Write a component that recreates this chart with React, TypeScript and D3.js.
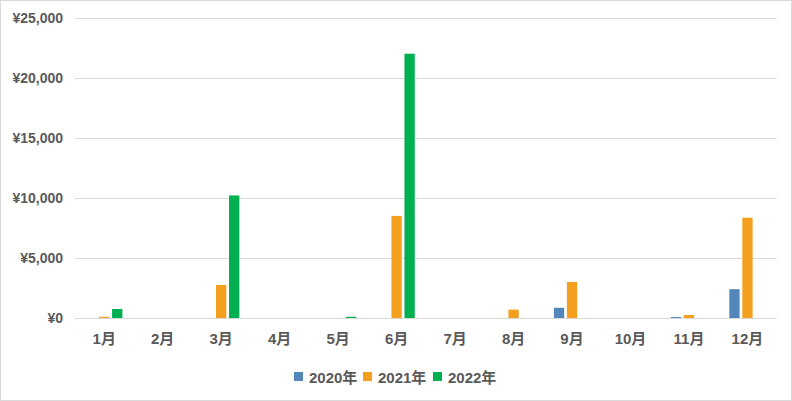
import React from "react";
import * as d3 from "d3";

const months = ["1月", "2月", "3月", "4月", "5月", "6月", "7月", "8月", "9月", "10月", "11月", "12月"];
const seriesNames = ["2020年", "2021年", "2022年"];
const values2020 = [0, 0, 0, 0, 0, 0, 0, 0, 850, 0, 80, 2400];
const values2021 = [100, 0, 2750, 0, 0, 8500, 0, 700, 3000, 0, 250, 8350];
const values2022 = [750, 0, 10200, 0, 100, 22000, 0, 0, 0, 0, 0, 0];
const yTicks = [0, 5000, 10000, 15000, 20000, 25000];
const colors = ["#5386B9", "#F59F1E", "#00B050"];

const W = 792;
const H = 401;
const left = 75;
const right = 776.7;
const top = 17.7;
const bottom = 318;
const font = "'Liberation Sans', Arial, 'Noto Sans CJK JP', sans-serif";
const textColor = "#595959";

export default function App() {
  const seriesValues = [values2020, values2021, values2022];
  const x0 = d3.scaleBand<string>().domain(months).range([left, right]).padding(0);
  const x1 = d3.scaleBand<string>().domain(seriesNames).range([-18.15, 18.15]).paddingInner(0.208).paddingOuter(0);
  const y = d3.scaleLinear().domain([0, 25000]).range([bottom, top]);
  const fmt = (v: number) => "¥" + d3.format(",")(v);

  const legendItems = [
    { name: seriesNames[0], x: 294 },
    { name: seriesNames[1], x: 363 },
    { name: seriesNames[2], x: 433 },
  ];

  return (
    <svg width={W} height={H} style={{ position: "absolute", left: 0, top: 0, background: "#fff" }} fontFamily={font}>
      <rect x={0.5} y={0.5} width={W - 1} height={H - 1} fill="#fff" stroke="#d9d9d9" />
      {yTicks.map((t) => (
        <g key={t}>
          <line x1={left} x2={right} y1={Math.round(y(t)) + 0.5} y2={Math.round(y(t)) + 0.5} stroke="#d9d9d9" strokeWidth={1} />
          <text x={63} y={y(t) + 5} textAnchor="end" fontSize={14} fontWeight="bold" fill={textColor}>
            {fmt(t)}
          </text>
        </g>
      ))}
      {months.map((m, i) => {
        const cx = (x0(m) as number) + x0.bandwidth() / 2;
        return (
          <g key={m}>
            {seriesNames.map((s, j) => {
              const v = seriesValues[j][i];
              if (!v) return null;
              const yy = y(v);
              return (
                <rect
                  key={s}
                  x={cx + (x1(s) as number)}
                  y={yy}
                  width={x1.bandwidth()}
                  height={Math.max(bottom - yy, 0)}
                  fill={colors[j]}
                />
              );
            })}
            <text x={cx} y={343.5} textAnchor="middle" fontSize={15} fontWeight="bold" fill={textColor}>
              {m}
            </text>
          </g>
        );
      })}
      {legendItems.map((it, j) => (
        <g key={it.name}>
          <rect x={it.x} y={372} width={9} height={9} fill={colors[j]} />
          <text x={it.x + 15} y={382.5} fontSize={15} fontWeight="bold" fill={textColor}>
            {it.name}
          </text>
        </g>
      ))}
    </svg>
  );
}
